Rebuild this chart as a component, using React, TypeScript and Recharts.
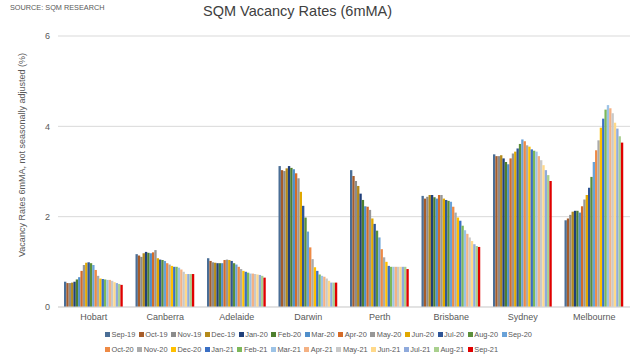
import React from 'react';
import { BarChart, Bar, XAxis, YAxis, CartesianGrid } from 'recharts';

const cities = ['Hobart', 'Canberra', 'Adelaide', 'Darwin', 'Perth', 'Brisbane', 'Sydney', 'Melbourne'];

const months = [
  'Sep-19', 'Oct-19', 'Nov-19', 'Dec-19', 'Jan-20', 'Feb-20', 'Mar-20', 'Apr-20', 'May-20',
  'Jun-20', 'Jul-20', 'Aug-20', 'Sep-20', 'Oct-20', 'Nov-20', 'Dec-20', 'Jan-21', 'Feb-21',
  'Mar-21', 'Apr-21', 'May-21', 'Jun-21', 'Jul-21', 'Aug-21', 'Sep-21',
];

const monthColors = [
  '#4a6e96', '#a65c2a', '#8c8c8c', '#b38a1a', '#1f3f7a', '#4e7f2e', '#4f8fcb', '#d46b28', '#979797',
  '#e0a800', '#2f5597', '#5b8f3a', '#6aa2d8', '#ee8a45', '#ababab', '#ffc000', '#3a6fc4', '#7db85a',
  '#9dc3e6', '#f4b183', '#c9c9c9', '#ffd98a', '#8faadc', '#a9d08e', '#e00000',
];

const hobart = [0.56, 0.53, 0.53, 0.54, 0.56, 0.61, 0.66, 0.8, 0.93, 0.98, 0.99, 0.97, 0.93, 0.82, 0.69, 0.63, 0.62, 0.61, 0.6, 0.6, 0.58, 0.55, 0.53, 0.51, 0.49];
const canberra = [1.17, 1.14, 1.11, 1.19, 1.22, 1.2, 1.19, 1.21, 1.26, 1.08, 1.05, 1.04, 1.02, 0.97, 0.94, 0.91, 0.89, 0.89, 0.87, 0.83, 0.78, 0.73, 0.73, 0.73, 0.73];
const adelaide = [1.08, 1.02, 0.99, 0.98, 0.97, 0.97, 0.97, 1.04, 1.05, 1.04, 1.02, 0.97, 0.94, 0.89, 0.84, 0.8, 0.78, 0.76, 0.74, 0.74, 0.73, 0.72, 0.71, 0.69, 0.65];
const darwin = [3.12, 3.03, 3.01, 3.07, 3.12, 3.08, 3.05, 2.96, 2.85, 2.55, 2.24, 1.98, 1.67, 1.32, 1.06, 0.88, 0.8, 0.72, 0.69, 0.67, 0.63, 0.58, 0.54, 0.54, 0.54];
const perth = [3.03, 2.9, 2.79, 2.68, 2.51, 2.37, 2.23, 2.22, 2.15, 1.96, 1.84, 1.69, 1.54, 1.28, 1.1, 1.0, 0.91, 0.89, 0.89, 0.89, 0.89, 0.89, 0.89, 0.89, 0.84];
const brisbane = [2.46, 2.4, 2.44, 2.48, 2.48, 2.43, 2.4, 2.48, 2.48, 2.4, 2.37, 2.35, 2.33, 2.22, 2.09, 1.98, 1.91, 1.8, 1.7, 1.62, 1.54, 1.46, 1.39, 1.35, 1.33];
const sydney = [3.38, 3.34, 3.34, 3.36, 3.29, 3.21, 3.16, 3.29, 3.4, 3.44, 3.51, 3.61, 3.71, 3.67, 3.58, 3.55, 3.49, 3.46, 3.44, 3.34, 3.25, 3.14, 3.03, 2.92, 2.79];
const melbourne = [1.92, 1.96, 2.04, 2.11, 2.13, 2.13, 2.09, 2.23, 2.38, 2.48, 2.64, 2.88, 3.21, 3.47, 3.69, 3.97, 4.17, 4.37, 4.47, 4.4, 4.29, 4.08, 3.95, 3.78, 3.64];

const yTicks = [0, 2, 4, 6];

const cityValues = [hobart, canberra, adelaide, darwin, perth, brisbane, sydney, melbourne];

const data = cities.map((city, ci) => {
  const row: Record<string, string | number> = { city };
  months.forEach((m, mi) => {
    row[m] = cityValues[ci][mi];
  });
  return row;
});

const FONT = '"Liberation Sans", Arial, sans-serif';
const TEXT = '#595959';

export default function App() {
  return (
    <div style={{ position: 'absolute', left: 0, top: 0, width: 640, height: 357, background: '#fff', fontFamily: FONT }}>
      <div style={{ position: 'absolute', left: 10, top: 3, fontSize: 7.3, color: TEXT, whiteSpace: 'nowrap' }}>SOURCE: SQM RESEARCH</div>
      <div style={{ position: 'absolute', left: 203, top: 3, fontSize: 14.5, color: '#404040', whiteSpace: 'nowrap' }}>SQM Vacancy Rates (6mMA)</div>
      <div
        style={{
          position: 'absolute', left: 22, top: 155, transform: 'translate(-50%, -50%) rotate(-90deg)',
          fontSize: 9, color: TEXT, whiteSpace: 'nowrap',
        }}
      >
        Vacancy Rates 6mMA, not seasonally adjusted (%)
      </div>
      <BarChart
        width={640}
        height={357}
        data={data}
        margin={{ top: 36, right: 10, bottom: 20, left: 0 }}
        barGap={0}
        barSize={2.35}
      >
        <CartesianGrid vertical={false} stroke="#d9d9d9" />
        <XAxis
          dataKey="city"
          height={30}
          tickLine={false}
          tickSize={5}
          tickMargin={2}
          axisLine={{ stroke: '#d9d9d9' }}
          tick={{ fontSize: 9, fill: TEXT, fontFamily: FONT }}
          interval={0}
        />
        <YAxis
          width={58}
          domain={[0, 6]}
          ticks={yTicks}
          axisLine={false}
          tickLine={false}
          tick={{ fontSize: 9, fill: TEXT, fontFamily: FONT }}
        />
        {months.map((m, i) => (
          <Bar key={m} dataKey={m} fill={monthColors[i]} isAnimationActive={false} />
        ))}
      </BarChart>
      <div
        style={{
          position: 'absolute', left: 105, top: 327, width: 462, display: 'flex', flexWrap: 'wrap',
          fontSize: 7.4, color: TEXT, lineHeight: '15px',
        }}
      >
        {months.map((m, i) => (
          <div key={m} style={{ display: 'flex', alignItems: 'center', marginRight: 3.5 }}>
            <span style={{ width: 5, height: 5, background: monthColors[i], marginRight: 1.5, display: 'inline-block' }} />
            <span>{m}</span>
          </div>
        ))}
      </div>
    </div>
  );
}
